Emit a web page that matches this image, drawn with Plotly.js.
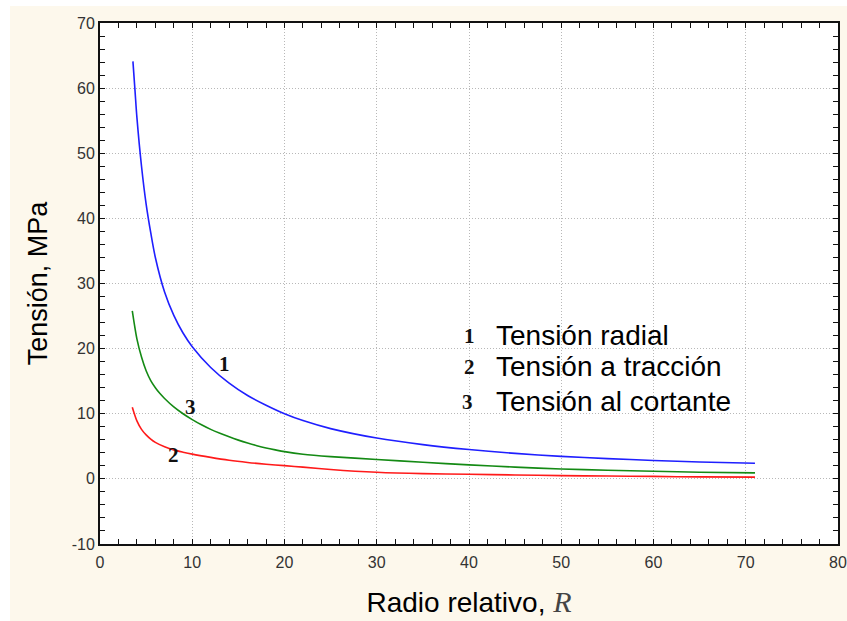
<!DOCTYPE html>
<html>
<head>
<meta charset="utf-8">
<script src="https://cdn.plot.ly/plotly-3.0.1.min.js"></script>
<style>
  html, body { margin: 0; padding: 0; background: #ffffff; }
  #chart { position: absolute; left: 10px; top: 6px; width: 837px; height: 615px; }
</style>
</head>
<body>
<div id="chart"></div>
<script>
// Curve 1: Tensión radial (blue)
const xRadial = [3.57, 3.8, 4.0, 4.5, 5.0, 5.5, 6.0, 7.0, 8.0, 9.0, 10, 12, 14, 16, 18, 20, 22, 25, 30, 35, 40, 45, 50, 55, 60, 65, 71];
const yRadial = [64.1, 59.5, 55.5, 48.0, 42.2, 37.8, 34.0, 28.7, 25.1, 22.4, 20.3, 17.1, 14.7, 12.8, 11.3, 10.0, 8.95, 7.72, 6.27, 5.26, 4.5, 3.91, 3.46, 3.11, 2.83, 2.6, 2.4];

// Curve 2: Tensión a tracción (red)
const xTraccion = [3.5, 4.0, 4.5, 5.0, 5.5, 6.0, 7.0, 8.0, 9.0, 10, 12, 14, 16, 18, 20, 22, 25, 30, 35, 40, 45, 50, 55, 60, 65, 71];
const yTraccion = [11.0, 8.9, 7.6, 6.75, 6.1, 5.6, 4.95, 4.45, 4.1, 3.8, 3.3, 2.86, 2.52, 2.25, 2.03, 1.8, 1.45, 1.02, 0.8, 0.7, 0.6, 0.5, 0.44, 0.38, 0.3, 0.27];

// Curve 3: Tensión al cortante (green)
const xCortante = [3.5, 4.0, 4.5, 5.0, 5.5, 6.0, 6.5, 7.0, 8.0, 9.0, 10, 11, 12, 13, 14, 15, 16, 17, 18, 19, 20, 22, 25, 30, 35, 40, 45, 50, 55, 60, 65, 71];
const yCortante = [25.8, 21.5, 18.7, 16.6, 15.1, 14.0, 13.1, 12.35, 11.05, 10.0, 9.1, 8.3, 7.6, 7.0, 6.45, 5.95, 5.5, 5.1, 4.75, 4.45, 4.18, 3.78, 3.42, 2.98, 2.55, 2.15, 1.8, 1.52, 1.32, 1.16, 1.02, 0.92];

// Labels
const curveNumbers = ["1", "2", "3"];
const curveNames = ["Tensión radial", "Tensión a tracción", "Tensión al cortante"];
const numberLabelX = [13.5, 8.0, 9.78];
const numberLabelY = [17.6, 3.65, 11.0];
const legendNumX = [40.1, 40.0, 39.8];
const legendY = [22.0, 17.2, 11.85];
const legendTextX = 42.7;

const xTickVals = [0, 10, 20, 30, 40, 50, 60, 70, 80];
const xTickText = ["0", "10", "20", "30", "40", "50", "60", "70", "80"];
const yTickVals = [-10, 0, 10, 20, 30, 40, 50, 60, 70];
const yTickText = ["-10", "0", "10", "20", "30", "40", "50", "60", "70"];

const lineStyle = (c) => ({ color: c, width: 1.6, shape: 'spline', smoothing: 0.8 });

const traces = [
  { x: xRadial, y: yRadial, mode: 'lines', name: curveNames[0], line: lineStyle('#1f1fff') },
  { x: xTraccion, y: yTraccion, mode: 'lines', name: curveNames[1], line: lineStyle('#ff1a1a') },
  { x: xCortante, y: yCortante, mode: 'lines', name: curveNames[2], line: lineStyle('#148a14') }
];

const annotations = [];
for (let i = 0; i < 3; i++) {
  annotations.push({
    x: numberLabelX[i], y: numberLabelY[i], xref: 'x', yref: 'y', text: '<b>' + curveNumbers[i] + '</b>',
    showarrow: false, xanchor: 'center', yanchor: 'middle',
    font: { family: 'Liberation Serif, Times New Roman, serif', size: 21, color: '#111' }
  });
  annotations.push({
    x: legendNumX[i], y: legendY[i], xref: 'x', yref: 'y', text: '<b>' + curveNumbers[i] + '</b>',
    showarrow: false, xanchor: 'center', yanchor: 'middle',
    font: { family: 'Liberation Serif, Times New Roman, serif', size: 21, color: '#111' }
  });
  annotations.push({
    x: legendTextX, y: legendY[i], xref: 'x', yref: 'y', text: curveNames[i],
    showarrow: false, xanchor: 'left', yanchor: 'middle',
    font: { family: 'Liberation Sans, Arial, sans-serif', size: 28, color: '#000' }
  });
}

const axisCommon = {
  showline: true, linecolor: '#111', linewidth: 2, mirror: 'ticks',
  ticks: 'inside', ticklen: 5, tickwidth: 1, tickcolor: '#111',
  showgrid: true, gridcolor: '#b8b8b8', gridwidth: 1, griddash: '1px,2px',
  zeroline: false,
  tickfont: { family: 'Liberation Sans, Arial, sans-serif', size: 16, color: '#333' },
  minor: { dtick: 2, ticks: 'inside', ticklen: 5, tickwidth: 1, tickcolor: '#111', showgrid: false }
};

const layout = {
  width: 837, height: 615,
  margin: { l: 90, r: 9, t: 17, b: 77 },
  paper_bgcolor: '#fdf8ec',
  plot_bgcolor: '#ffffff',
  showlegend: false,
  xaxis: Object.assign({}, axisCommon, {
    range: [0, 80], tickmode: 'array', tickvals: xTickVals, ticktext: xTickText,
    ticklabelstandoff: 3,
    title: { text: 'Radio relativo, <span style="font-family:\'Liberation Serif\',serif;color:#444;font-size:30px"><i>R</i></span>',
             font: { family: 'Liberation Sans, Arial, sans-serif', size: 28, color: '#000' }, standoff: 22 }
  }),
  yaxis: Object.assign({}, axisCommon, {
    range: [-10, 70], tickmode: 'array', tickvals: yTickVals, ticktext: yTickText,
    title: { text: 'Tensión, MPa',
             font: { family: 'Liberation Sans, Arial, sans-serif', size: 27, color: '#000' }, standoff: 16 }
  }),
  annotations: annotations
};

Plotly.newPlot('chart', traces, layout, { displayModeBar: false, staticPlot: true });
</script>
</body>
</html>
